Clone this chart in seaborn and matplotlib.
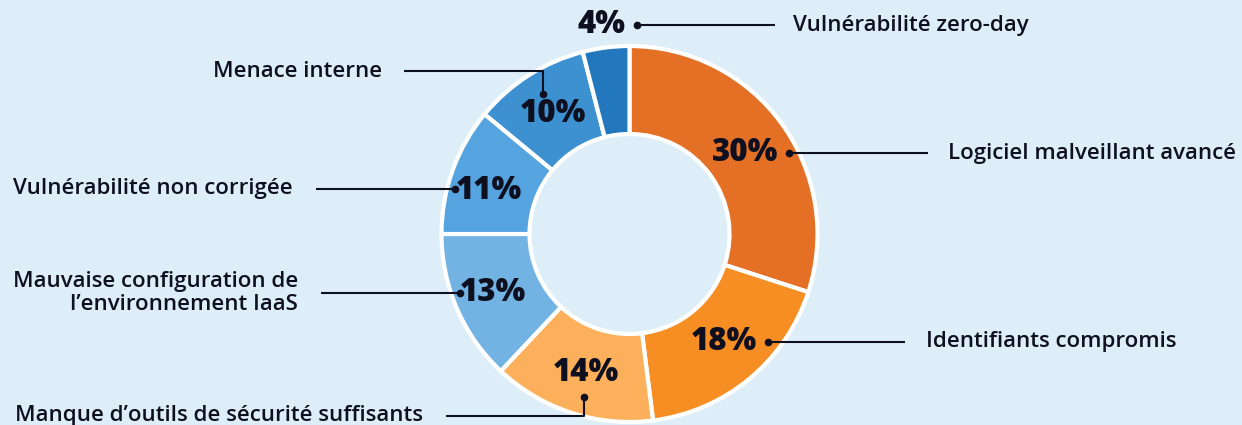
import matplotlib
matplotlib.use("Agg")
import matplotlib.pyplot as plt
import seaborn as sns

# data
categories = ["Logiciel malveillant avancé", "Identifiants compromis",
              "Manque d’outils de sécurité suffisants",
              "Mauvaise configuration de\nl’environnement IaaS",
              "Vulnérabilité non corrigée", "Menace interne",
              "Vulnérabilité zero-day"]
values = [30, 18, 14, 13, 11, 10, 4]
colors = ["#e37024", "#f68e23", "#fdb05c", "#72b3e3", "#55a3df", "#3e91d0", "#2277bd"]

# layout (pixel coords, y from top)
W, H = 1242, 425
pct_pos = [(745, 153), (724, 342), (586, 373), (493, 293), (489, 191), (553, 114), (602, 25)]
leaders = [
    [(789, 153), (928, 153)],
    [(768, 342), (905, 342)],
    [(584, 397), (584, 416), (446, 416)],
    [(460, 293), (321, 293)],
    [(455, 189), (316, 189)],
    [(543, 94), (543, 71), (404, 71)],
    [(637, 25), (775, 25)],
]
label_pos = [(948, 153, "left"), (926, 341, "left"), (423, 415, "right"),
             (298, 293, "right"), (293, 188, "right"), (382, 71, "right"),
             (793, 25, "left")]

sns.set_theme(style="white")
bg = "#ddeef9"
ink = "#0e1020"

fig = plt.figure(figsize=(12.42, 4.25), dpi=100)
fig.patch.set_facecolor(bg)
ax = fig.add_axes([0, 0, 1, 1])
ax.set_facecolor(bg)

ax.pie(values, colors=colors, startangle=90, counterclock=False,
       center=(629.5, H - 234), radius=188,
       wedgeprops=dict(width=88, edgecolor="white", linewidth=3))

for (px, py), v in zip(pct_pos, values):
    ax.text(px, H - py, f"{v}%", ha="center", va="center", fontsize=22.5,
            fontweight=800, family="Open Sans", color=ink)

for pts in leaders:
    xs = [p[0] for p in pts]
    ys = [H - p[1] for p in pts]
    ax.plot(xs, ys, color=ink, lw=1.5, solid_capstyle="butt")
    ax.plot(xs[0], ys[0], "o", color=ink, ms=4.5)

for (lx, ly, ha), name in zip(label_pos, categories):
    ax.text(lx, H - ly, name, ha=ha, va="center", fontsize=16, fontweight=600,
            family="Open Sans", color=ink, multialignment=ha, linespacing=1.15)

ax.set_xlim(0, W)
ax.set_ylim(0, H)
ax.set_aspect("equal")
ax.axis("off")

fig.savefig("out.png", dpi=100, facecolor=bg)
